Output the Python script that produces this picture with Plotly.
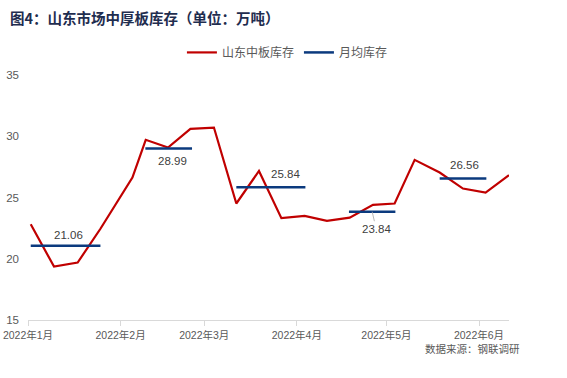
import plotly.graph_objects as go
from datetime import datetime

# ---- data ----
week_dates = ["2022-01-01 22:00", "2022-01-09 17:00", "2022-01-17 15:00", "2022-01-25 06:00",
              "2022-02-04 23:00", "2022-02-09 10:00", "2022-02-16 21:00", "2022-02-24 09:00",
              "2022-03-04 06:00", "2022-03-11 18:00", "2022-03-19 08:00", "2022-03-26 20:00",
              "2022-04-03 15:00", "2022-04-11 02:00", "2022-04-18 17:00", "2022-04-26 12:00",
              "2022-05-03 18:00", "2022-05-10 11:00", "2022-05-18 20:00", "2022-05-26 15:00",
              "2022-06-03 05:00", "2022-06-11 01:00"]
stock = [22.82, 19.36, 19.69, 22.45, 26.63, 29.71, 29.08, 30.60, 30.71, 24.51, 27.17,
         23.31, 23.50, 23.09, 23.36, 24.40, 24.51, 28.07, 27.04, 25.73, 25.40, 26.82]

month_start = ["2022-01-01 22:00", "2022-02-09 07:00", "2022-03-11 18:00", "2022-04-18 11:00", "2022-05-18 20:00"]
month_end = ["2022-01-25 06:00", "2022-02-24 22:00", "2022-04-03 21:00", "2022-05-04 00:00", "2022-06-03 11:00"]
month_avg = [21.06, 28.99, 25.84, 23.84, 26.56]

tick_vals = ["2022-01-01", "2022-02-01", "2022-03-01", "2022-04-01", "2022-05-01", "2022-06-01"]
tick_text = ["2022年1月", "2022年2月", "2022年3月", "2022年4月", "2022年5月", "2022年6月"]

# ---- style ----
RED = "#C00000"
NAVY = "#0B3A7E"
GREY = "#595959"
FONT = "Liberation Sans, Noto Sans CJK SC, sans-serif"
CJK = "Noto Sans CJK SC, sans-serif"
label_shift = [(3, 11), (4, -12), (15, 13), (4, -17), (1, 13)]

fig = go.Figure()
fig.add_trace(go.Scatter(x=week_dates, y=stock, mode="lines", name="山东中板库存",
                         line=dict(color=RED, width=2.2)))

seg_x, seg_y = [], []
for s, e, v in zip(month_start, month_end, month_avg):
    seg_x += [s, e, None]
    seg_y += [v, v, None]
fig.add_trace(go.Scatter(x=seg_x, y=seg_y, mode="lines", name="月均库存",
                         line=dict(color=NAVY, width=2.5)))

fmt = "%Y-%m-%d %H:%M"
for i, (s, e, v) in enumerate(zip(month_start, month_end, month_avg)):
    ds, de = datetime.strptime(s, fmt), datetime.strptime(e, fmt)
    mid = ds + (de - ds) / 2
    dx, dy = label_shift[i]
    if i == 3:
        fig.add_annotation(x=mid, y=v, xref="x", yref="y", text=f"{v:.2f}",
                           showarrow=True, arrowhead=0, arrowwidth=0.8, arrowcolor="#A6A6A6",
                           ax=dx, ay=-dy, standoff=0,
                           font=dict(family=FONT, size=11.5, color="#404040"))
    else:
        fig.add_annotation(x=mid, y=v, xref="x", yref="y", text=f"{v:.2f}",
                           showarrow=False, xshift=dx, yshift=dy,
                           font=dict(family=FONT, size=11.5, color="#404040"))

fig.add_annotation(text="<b>图4：山东市场中厚板库存（单位：万吨）</b>", xref="paper", yref="paper",
                   x=-0.041, y=1.0, xanchor="left", yanchor="bottom", yshift=45, showarrow=False,
                   font=dict(family=CJK, size=14.5, color="#1F2D4F"))
fig.add_annotation(text="数据来源：钢联调研", xref="paper", yref="paper",
                   x=1.0266, y=0, xanchor="right", yanchor="top", yshift=-19, showarrow=False,
                   font=dict(family=CJK, size=10.5, color=GREY))

fig.update_layout(
    width=567, height=378,
    margin=dict(l=28, r=58, t=75, b=58, autoexpand=False),
    paper_bgcolor="white", plot_bgcolor="white",
    showlegend=True,
    legend=dict(orientation="h", x=0.32, y=1.033, xanchor="left", yanchor="bottom",
                font=dict(family=CJK, size=12, color=GREY),
                itemwidth=30, tracegroupgap=0),
    xaxis=dict(type="date", range=["2022-01-01", "2022-06-11 01:00"], automargin=False,
               tickvals=tick_vals, ticktext=tick_text, ticklabeloverflow="allow",
               showgrid=False, showline=True, linecolor="#D9D9D9", linewidth=1,
               ticks="outside", ticklen=5, tickcolor="#D9D9D9",
               tickfont=dict(family=FONT, size=10.5, color=GREY), zeroline=False),
    yaxis=dict(range=[15, 35], dtick=5, showgrid=False, showline=False, zeroline=False,
               automargin=False,
               tickfont=dict(family=FONT, size=11.5, color=GREY), ticks="", ticklabelstandoff=8),
)

fig.write_html("out.html", config={"displayModeBar": False},
               post_script="document.body.style.margin='0';")
